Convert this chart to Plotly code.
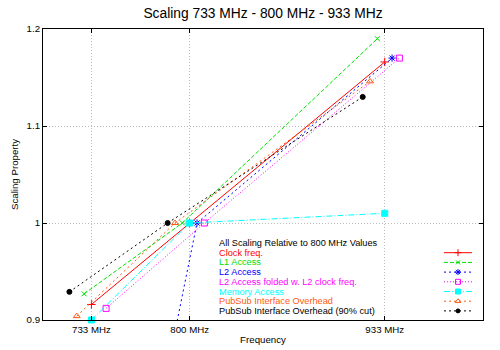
import plotly.graph_objects as go

# ---- data ----
tick_vals = [733, 800, 933]
tick_labels = ["733 MHz", "800 MHz", "933 MHz"]
y_ticks = [0.9, 1.0, 1.1, 1.2]
y_tick_labels = ["0.9", "1", "1.1", "1.2"]

names = [
    "Clock freq.",
    "L1 Access",
    "L2 Access",
    "L2 Access folded w. L2 clock freq.",
    "Memory Access",
    "PubSub Interface Overhead",
    "PubSub Interface Overhead (90% cut)",
]
x_clock = [733, 800, 933]
x_l1 = [728, 795, 928]
x_l2 = [738, 805, 938]
x_l2f = [743, 810, 943]
x_mem = [733, 800, 933]
x_ps = [723, 790, 923]
x_ps90 = [718, 785, 918]

clock = [0.916, 1.0, 1.166]
l1 = [0.927, 1.0, 1.19]
l2 = [0.5, 1.0, 1.17]
l2_folded = [0.912, 1.0, 1.17]
mem = [0.9, 1.0, 1.01]
pubsub = [0.904, 1.0, 1.146]
pubsub90 = [0.929, 1.0, 1.13]

xs = [x_clock, x_l1, x_l2, x_l2f, x_mem, x_ps, x_ps90]
ys = [clock, l1, l2, l2_folded, mem, pubsub, pubsub90]

# ---- styles ----
colors = ["#ff0000", "#00e000", "#0000ff", "#ff00ff", "#00ffff", "#ff5a10", "#000000"]
dashes = ["solid", "4px,2px", "2px,3px", "1px,2px", "6px,2px,1px,2px", "2px,3px", "2px,3px"]
symbols = ["cross-thin-open", "x-thin-open", "asterisk-open", "square-open",
           "square", "triangle-up-open", "circle"]
sizes = [6, 5, 6, 6, 6, 6, 5]

FONT = "Liberation Sans, Arial, Helvetica, sans-serif"
L, R, T, B = 43, 483, 29, 320

fig = go.Figure()
for i in range(len(names)):
    fig.add_trace(go.Scatter(
        x=xs[i], y=ys[i], mode="lines+markers", name=names[i],
        line=dict(color=colors[i], width=1, dash=dashes[i]),
        marker=dict(symbol=symbols[i], size=sizes[i], color=colors[i],
                    line=dict(color=colors[i], width=1)),
        cliponaxis=(i != 4), showlegend=False,
    ))

# ---- custom gnuplot-style legend (text left, sample right) ----
leg_text_x = 217
leg_row0 = 243
leg_dy = 9.7
leg_x0, leg_x1, leg_xm = 444, 472, 458
LEG_FS = 9.2
annotations = [dict(x=leg_text_x, y=leg_row0, xref="x2", yref="y2",
                    text="All Scaling Relative to 800 MHz Values", showarrow=False,
                    xanchor="left", yanchor="middle",
                    font=dict(family=FONT, size=LEG_FS, color="#000000"))]
for i in range(len(names)):
    yy = leg_row0 + leg_dy * (i + 1)
    annotations.append(dict(x=leg_text_x, y=yy, xref="x2", yref="y2", text=names[i],
                            showarrow=False, xanchor="left", yanchor="middle",
                            font=dict(family=FONT, size=LEG_FS, color=colors[i])))
    fig.add_trace(go.Scatter(
        x=[leg_x0, leg_xm, leg_x1], y=[yy, yy, yy], xaxis="x2", yaxis="y2",
        mode="lines", line=dict(color=colors[i], width=1, dash=dashes[i]),
        showlegend=False, hoverinfo="skip"))
    fig.add_trace(go.Scatter(
        x=[leg_xm], y=[yy], xaxis="x2", yaxis="y2", mode="markers",
        marker=dict(symbol=symbols[i], size=sizes[i] - 1, color=colors[i],
                    line=dict(color=colors[i], width=1)),
        showlegend=False, hoverinfo="skip"))

axis_common = dict(showline=True, linecolor="#000000", linewidth=1, mirror="allticks",
                   ticks="inside", ticklen=4, tickcolor="#000000", zeroline=False,
                   showgrid=True, gridcolor="#bcbcbc", griddash="1px,2px", gridwidth=1,
                   automargin=False,
                   tickfont=dict(family=FONT, size=9.7, color="#000000"))

fig.update_layout(
    width=500, height=350,
    margin=dict(l=L, r=500 - R, t=T, b=350 - B, autoexpand=False),
    paper_bgcolor="white", plot_bgcolor="white",
    title=dict(text="Scaling 733 MHz - 800 MHz - 933 MHz", x=(L + R) / 2 / 500, xanchor="center",
               y=1 - 13 / 350, yanchor="middle",
               font=dict(family=FONT, size=13.8, color="#000000")),
    xaxis=dict(range=[700, 1000], tickvals=tick_vals, ticktext=tick_labels,
               title=dict(text="Frequency", font=dict(family=FONT, size=9.7, color="#000000"),
                          standoff=2),
               **axis_common),
    yaxis=dict(range=[0.9, 1.2], tickvals=y_ticks, ticktext=y_tick_labels,
               title=dict(text="Scaling Property", font=dict(family=FONT, size=9.7, color="#000000"),
                          standoff=6),
               **axis_common),
    xaxis2=dict(range=[L, R], overlaying="x", visible=False, fixedrange=True),
    yaxis2=dict(range=[B, T], overlaying="y", visible=False, fixedrange=True),
    annotations=annotations,
    showlegend=False,
    hovermode=False,
)

fig.write_html("out.html", config={"displayModeBar": False, "staticPlot": True},
               post_script="document.body.style.margin='0';document.body.style.overflow='hidden';")
